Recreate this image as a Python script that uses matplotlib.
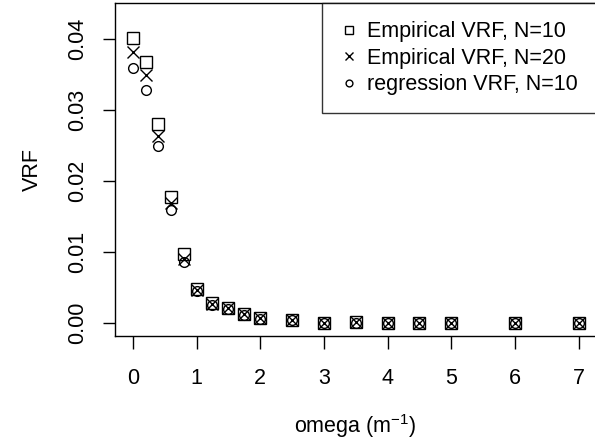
import matplotlib as mpl
import matplotlib.pyplot as plt

mpl.use("Agg")

plt.rcParams["font.family"] = ["Liberation Sans", "DejaVu Sans"]
plt.rcParams["mathtext.fontset"] = "custom"
plt.rcParams["mathtext.rm"] = "Liberation Sans"

# values
omega = [0, 0.2, 0.4, 0.6, 0.8, 1.0, 1.25, 1.5, 1.75, 2, 2.5, 3, 3.5, 4, 4.5, 5, 6, 7]
vrf_emp_n10 = [0.0402, 0.0368, 0.0281, 0.0178, 0.0097, 0.0048, 0.0028, 0.0021, 0.0013,
               0.0007, 0.0005, 0.0001, 0.0002, 0.0001, 0.0001, 0.0001, 0.0001, 0.0001]
vrf_emp_n20 = [0.0382, 0.0349, 0.0264, 0.0170, 0.0090, 0.0047, 0.0027, 0.0021, 0.0013,
               0.0007, 0.0005, 0.0000, 0.0002, 0.0001, 0.0001, 0.0000, 0.0001, 0.0001]
vrf_reg_n10 = [0.0359, 0.0328, 0.0249, 0.0160, 0.0086, 0.0045, 0.0026, 0.0020, 0.0012,
               0.0006, 0.0004, 0.0000, 0.0001, 0.0000, 0.0000, 0.0000, 0.0000, 0.0000]
x_ticks = [0, 1, 2, 3, 4, 5, 6, 7]
y_ticks = [0.00, 0.01, 0.02, 0.03, 0.04]

FS = 15.5

fig = plt.figure(figsize=(5.95, 4.48), dpi=100)
ax = fig.add_axes([0.1933, 0.25, 0.809, 0.7433])

ax.plot(omega, vrf_emp_n10, ls="none", marker="s", ms=8, mfc="none", mec="black",
        mew=1.0, label="Empirical VRF, N=10")
ax.plot(omega, vrf_emp_n20, ls="none", marker="x", ms=9, mec="black",
        mew=1.0, label="Empirical VRF, N=20")
ax.plot(omega, vrf_reg_n10, ls="none", marker="o", ms=7, mfc="none", mec="black",
        mew=1.0, label="regression VRF, N=10")

ax.set_xlim(-0.28, 7.28)
ax.set_ylim(-0.0018, 0.0451)
ax.set_xticks(x_ticks)
ax.set_yticks(y_ticks)
ax.set_yticklabels([f"{v:.2f}" for v in y_ticks], rotation=90, va="center")
ax.tick_params(axis="both", length=9, width=1, labelsize=FS, color="black")
ax.tick_params(axis="x", pad=14)
ax.tick_params(axis="y", pad=10)
for s in ax.spines.values():
    s.set_linewidth(1)

ax.set_xlabel("omega (m$^{-1}$)", fontsize=FS, labelpad=17)
ax.set_ylabel("VRF", fontsize=FS, labelpad=18)

leg = ax.legend(loc="upper right", fontsize=FS, frameon=True, fancybox=False,
                edgecolor="black", borderaxespad=0, markerscale=0.7,
                handlelength=0.8, handletextpad=0.45, labelspacing=0.25,
                borderpad=0.85)
leg.get_frame().set_linewidth(1)

fig.savefig("out.png", dpi=100)
